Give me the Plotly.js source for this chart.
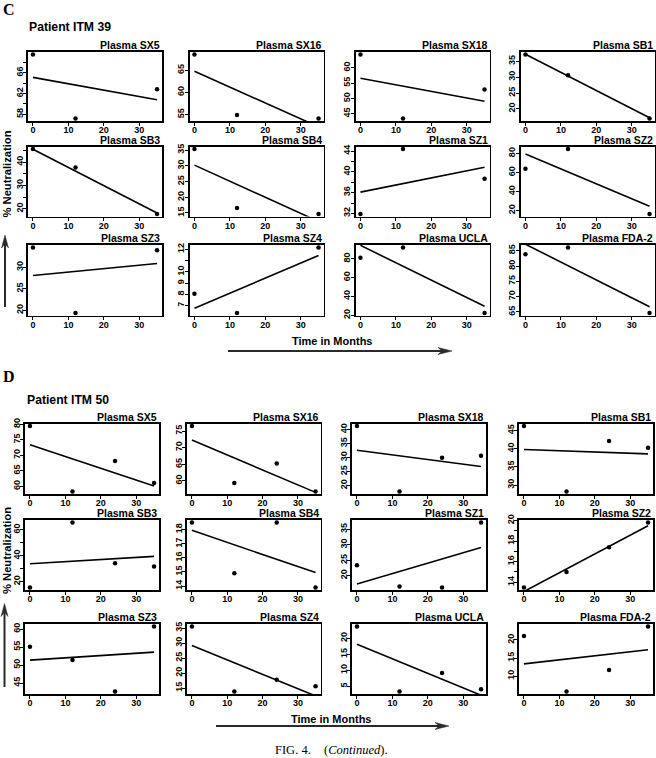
<!DOCTYPE html>
<html><head><meta charset="utf-8">
<script src="https://cdn.plot.ly/plotly-3.0.1.min.js"></script>
<style>html,body{margin:0;padding:0;background:#fff}#chart{width:656px;height:758px}</style>
</head><body><div id="chart"></div>
<script>
// ---------------- DATA ----------------
const plasmaNames = ['SX5','SX16','SX18','SB1','SB3','SB4','SZ1','SZ2','SZ3','SZ4','UCLA','FDA-2'];
const monthsITM39 = [0, 12, 35];
const monthsITM50 = [0, 12, 24, 35];
const fitMonths = [0, 35];
const xTicks = [0, 10, 20, 30];

// Patient ITM 39: % neutralization at each month, per plasma
const neutITM39 = [
  [69.5, 57.2, 62.8],
  [68.6, 54.9, 54.1],
  [64.3, 43.5, 52.9],
  [37.1, 30.6, 17.0],
  [45.6, 37.7, 17.8],
  [35.3, 16.6, 14.7],
  [31.9, 44.4, 38.7],
  [63.9, 84.6, 16.4],
  [34.6, 19.4, 34.0],
  [8.05, 6.34, 12.15],
  [81.1, 92.0, 22.5],
  [83.8, 86.0, 64.7]
];
// regression line read at month 0 and month 35
const fitITM39 = [
  [65.1, 60.8], [64.8, 52.2], [56.6, 49.1], [37.2, 17.2],
  [45.5, 18.2], [30.2, 12.3], [36.1, 40.9], [79.4, 24.4],
  [28.1, 30.9], [6.75, 11.45], [94.4, 29.6], [87.1, 66.7]
];
const yTicksITM39 = [
  [58,60,62,64,66,68], [55,60,65], [45,50,55,60], [20,25,30,35],
  [20,25,30,35,40,45], [15,20,25,30,35], [32,34,36,38,40,42,44], [20,40,60,80],
  [20,25,30], [7,8,9,10,11,12], [20,40,60,80], [65,70,75,80,85]
];
const yTickTextITM39 = [
  ['58','','62','','66',''], ['55','60','65'], ['45','50','55','60'], ['20','25','30','35'],
  ['20','','30','','40',''], ['15','20','25','30','35'], ['32','','36','','40','','44'], ['20','40','60','80'],
  ['20','25','30'], ['7','8','9','10','','12'], ['20','40','60','80'], ['65','70','75','80','85']
];

// Patient ITM 50
const neutITM50 = [
  [79.4, 58.4, 68.2, 61.1],
  [76.5, 59.3, 65.2, 56.8],
  [41.2, 17.9, 29.9, 30.6],
  [46.2, 28.3, 42.1, 40.3],
  [15.5, 65.7, 34.3, 31.7],
  [18.5, 14.9, 18.5, 13.9],
  [23.4, 16.5, 16.2, 37.2],
  [13.5, 15.0, 17.4, 19.8],
  [55.1, 51.4, 42.7, 60.7],
  [35.5, 13.9, 17.8, 15.6],
  [23.7, 3.4, 9.2, 4.1],
  [21.1, 5.8, 11.7, 23.7]
];
const fitITM50 = [
  [73.4, 60.1], [72.3, 56.5], [32.6, 26.8], [39.8, 38.6],
  [33.8, 39.5], [17.95, 14.95], [17.3, 29.1], [13.1, 19.5],
  [51.4, 53.6], [29.2, 12.4], [18.2, 2.2], [13.4, 17.3]
];
const yTicksITM50 = [
  [60,65,70,75,80], [60,65,70,75], [20,25,30,35,40], [30,35,40,45],
  [20,30,40,50,60], [14,15,16,17,18], [20,25,30,35], [14,15,16,17,18,19,20],
  [45,50,55,60], [15,20,25,30,35], [5,10,15,20], [10,15,20]
];
const yTickTextITM50 = [
  ['60','65','70','75','80'], ['60','65','70','75'], ['20','25','30','35','40'], ['30','35','40','45'],
  ['20','','40','','60'], ['14','15','16','17','18'], ['20','25','30','35'], ['14','','16','','18','','20'],
  ['45','50','55','60'], ['15','20','25','30','35'], ['5','10','15','20'], ['10','15','20']
];

// ---------------- LAYOUT (pixels) ----------------
const W = 656, H = 758;
const px = v => v / W;
const py = v => 1 - v / H;
const colsC = [[28,162],[189.5,323.5],[355.5,489.5],[520.5,654.5]];
const rowsC = [[52,121],[146.5,216.5],[245,315.5]];
const colsD = [[25,159],[187,320.5],[352,486],[519,653]];
const rowsD = [[423.5,494],[520,590],[624,694]];

const FONT = 'Liberation Sans, Arial, Helvetica, sans-serif';
const SERIF = 'Liberation Serif, Times New Roman, serif';
const traces = [];
const layout = {
  width: W, height: H, margin: {l:0, r:0, t:0, b:0},
  paper_bgcolor: '#fff', plot_bgcolor: '#fff', showlegend: false,
  annotations: [], shapes: []
};

const axisBase = {
  showgrid: false, zeroline: false, showline: true, mirror: true,
  linecolor: '#000', linewidth: 1.6, ticks: 'outside', ticklen: 3, tickwidth: 1,
  tickcolor: '#000', fixedrange: true, ticklabelstandoff: -3,
  tickfont: {family: FONT, size: 9, color: '#000', weight: 'bold'}
};

let n = 0;
function addPanel(months, vals, fit, ticks, ticktext, xbox, ybox, name) {
  n += 1;
  const sfx = n === 1 ? '' : String(n);
  const xa = 'x' + sfx, ya = 'y' + sfx;
  traces.push({x: fitMonths, y: fit, xaxis: xa, yaxis: ya, mode: 'lines',
    line: {color: '#000', width: 1.6}, hoverinfo: 'skip'});
  traces.push({x: months, y: vals, xaxis: xa, yaxis: ya, mode: 'markers',
    marker: {size: 4.5, color: '#000'}, cliponaxis: false, hoverinfo: 'skip'});
  const lo = Math.min(...vals), hi = Math.max(...vals), pad = 0.04 * (hi - lo);
  layout['xaxis' + sfx] = Object.assign({}, axisBase, {
    domain: [px(xbox[0]), px(xbox[1])], anchor: ya,
    range: [-1.4, 36.4], tickvals: xTicks, ticktext: xTicks.map(String)
  });
  layout['yaxis' + sfx] = Object.assign({}, axisBase, {
    domain: [py(ybox[1]), py(ybox[0])], anchor: xa,
    range: [lo - pad, hi + pad], tickvals: ticks, ticktext: ticktext, tickangle: -90
  });
  layout.annotations.push({
    text: 'Plasma ' + name, xref: 'paper', yref: 'paper',
    x: px(xbox[1]), y: py(ybox[0] + 1), xanchor: 'right', yanchor: 'bottom',
    showarrow: false, font: {family: FONT, size: 10.5, color: '#000', weight: 'bold'}
  });
}

plasmaNames.forEach((nm, i) => {
  const r = Math.floor(i / 4), c = i % 4;
  addPanel(monthsITM39, neutITM39[i], fitITM39[i], yTicksITM39[i], yTickTextITM39[i], colsC[c], rowsC[r], nm);
});
plasmaNames.forEach((nm, i) => {
  const r = Math.floor(i / 4), c = i % 4;
  addPanel(monthsITM50, neutITM50[i], fitITM50[i], yTicksITM50[i], yTickTextITM50[i], colsD[c], rowsD[r], nm);
});

function txt(text, x, y, opts) {
  layout.annotations.push(Object.assign({
    text: text, xref: 'paper', yref: 'paper', x: px(x), y: py(y),
    xanchor: 'center', yanchor: 'middle', showarrow: false
  }, opts));
}
const bold = (size) => ({family: FONT, size: size, color: '#000', weight: 'bold'});

txt('C', 9, 9.5, {font: {family: SERIF, size: 16, color: '#000', weight: 'bold'}});
txt('D', 9, 376.5, {font: {family: SERIF, size: 16, color: '#000', weight: 'bold'}});
txt('Patient ITM 39', 27, 27, {xanchor: 'left', font: bold(12.2)});
txt('Patient ITM 50', 24.5, 400, {xanchor: 'left', font: bold(12.2)});
txt('Time in Months', 332, 341, {font: bold(11)});
txt('Time in Months', 331, 719, {font: bold(11)});
txt('% Neutralization', 6.5, 174, {textangle: -90, font: bold(11.2)});
txt('% Neutralization', 6.5, 550.5, {textangle: -90, font: bold(11.2)});
txt('FIG. 4.', 273, 750, {xanchor: 'left', font: {family: SERIF, size: 12.5, color: '#000'}});
txt('(<i>Continued</i>).', 321.5, 750, {xanchor: 'left', font: {family: SERIF, size: 12.5, color: '#000'}});

// arrows
const ARROW = '#2a2a2a';
function hArrow(x0, tip, y) {
  layout.shapes.push({type: 'line', xref: 'paper', yref: 'paper',
    x0: px(x0), x1: px(tip - 10), y0: py(y), y1: py(y), line: {color: ARROW, width: 2}});
  const p = `M ${px(tip)} ${py(y)} L ${px(tip - 14)} ${py(y - 3.5)} L ${px(tip - 10)} ${py(y)} L ${px(tip - 14)} ${py(y + 3.5)} Z`;
  layout.shapes.push({type: 'path', xref: 'paper', yref: 'paper', path: p,
    fillcolor: ARROW, line: {color: ARROW, width: 0.5}});
}
function vArrow(x, y0, tip) {
  layout.shapes.push({type: 'line', xref: 'paper', yref: 'paper',
    x0: px(x), x1: px(x), y0: py(y0), y1: py(tip + 9), line: {color: ARROW, width: 2}});
  const p = `M ${px(x)} ${py(tip)} L ${px(x - 3.5)} ${py(tip + 13)} L ${px(x)} ${py(tip + 9)} L ${px(x + 3.5)} ${py(tip + 13)} Z`;
  layout.shapes.push({type: 'path', xref: 'paper', yref: 'paper', path: p,
    fillcolor: ARROW, line: {color: ARROW, width: 0.5}});
}
hArrow(228, 452, 351);
hArrow(216, 449, 726);
vArrow(5, 307, 235);
vArrow(4.5, 687, 603.5);

Plotly.newPlot('chart', traces, layout, {staticPlot: true, displayModeBar: false});
</script>
</body></html>
